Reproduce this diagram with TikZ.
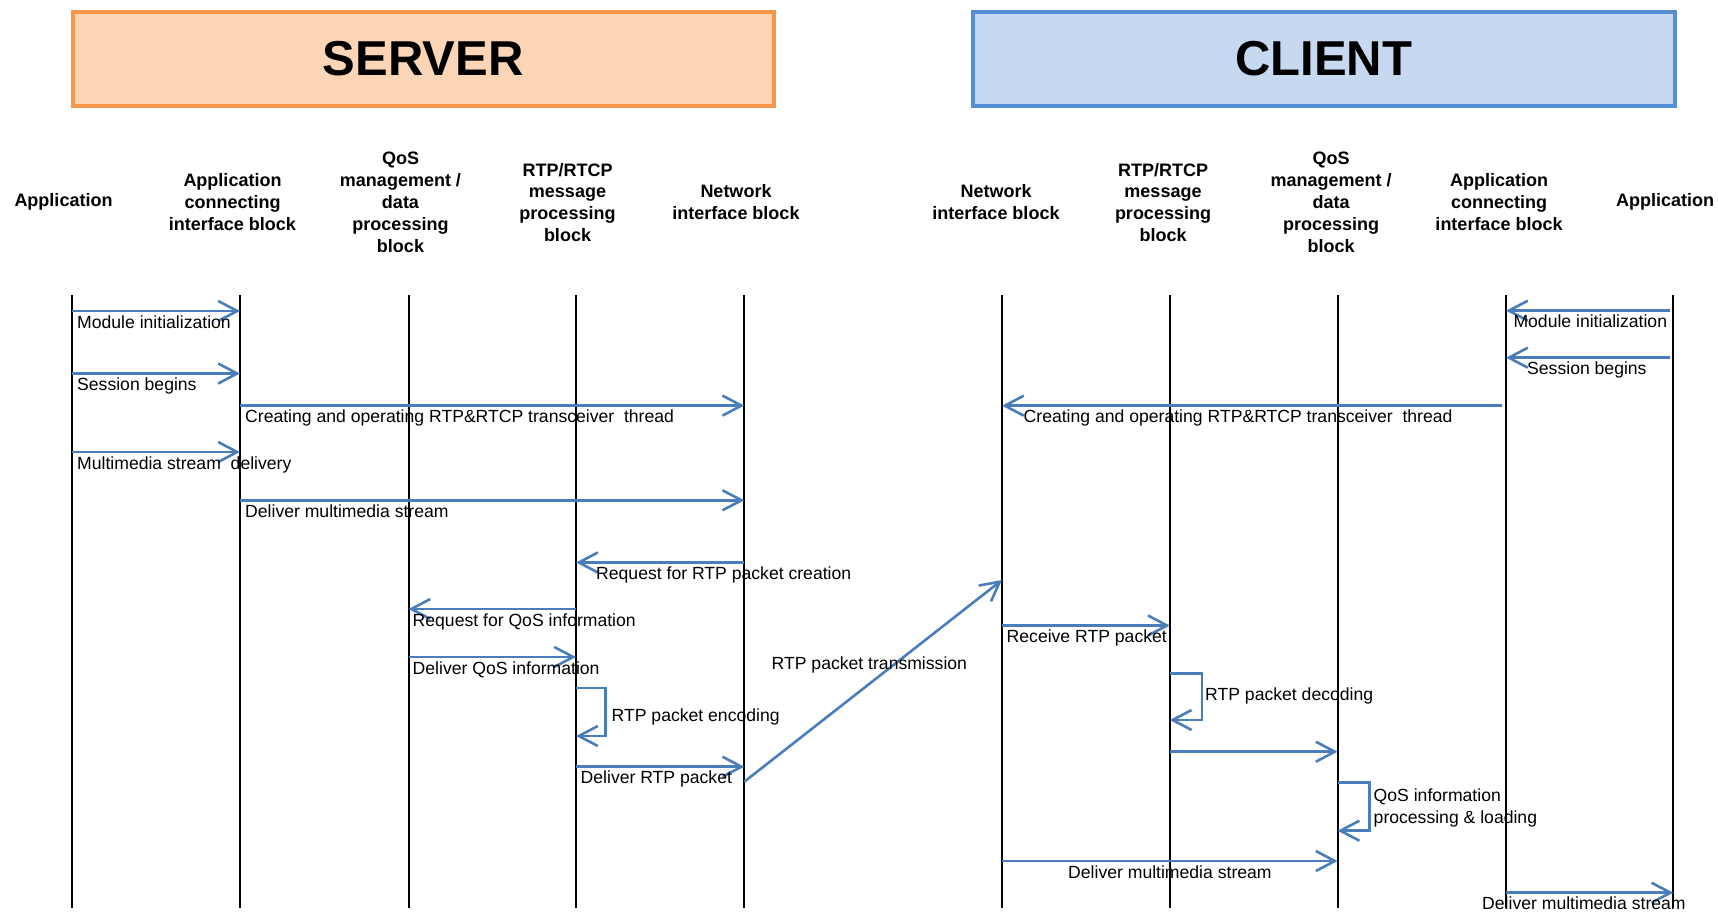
\documentclass[tikz,border=0pt]{standalone}
\usepackage{fontspec}
\setmainfont{Liberation Sans}
\usetikzlibrary{arrows.meta}
\definecolor{srvfill}{HTML}{FBD5B5}
\definecolor{srvline}{HTML}{F79646}
\definecolor{clifill}{HTML}{C6D9F1}
\definecolor{cliline}{HTML}{558ED5}
\definecolor{msgblue}{HTML}{4A7EBB}
\begin{document}
\begin{tikzpicture}[x=1pt,y=-1pt,
  lifeline/.style={draw=black, line width=2pt},
  msg/.style={draw=msgblue, line width=2.6pt, -{Straight Barb[length=19pt,width=20pt,line width=2.6pt]}},
  lbl/.style={anchor=base west, inner sep=0pt, font=\fontsize{17.6}{21.6}\selectfont},
  hdr/.style={align=center, inner sep=0pt, font=\fontsize{18}{21.9}\selectfont\bfseries},
  titlebox/.style={line width=4pt, minimum width=701.5pt, minimum height=94pt, inner sep=0pt, font=\fontsize{49}{55}\selectfont\bfseries}
]
\useasboundingbox (0,0) rectangle (1718,912);

% title boxes
\node[titlebox, fill=srvfill, draw=srvline] (server) at (423.25,59) {SERVER};
\node[titlebox, fill=clifill, draw=cliline] (client) at (1323.75,59) {CLIENT};

% headers
\node[hdr] (hsA) at (63.5,202) {Application};
\node[hdr] (hsB) at (232.5,202) {Application\\connecting\\interface block};
\node[hdr] (hsC) at (400.5,202.5) {QoS\\management /\\data\\processing\\block};
\node[hdr] (hsD) at (567.5,202.5) {RTP/RTCP\\message\\processing\\block};
\node[hdr] (hsE) at (736,202) {Network\\interface block};
\node[hdr] (hcE) at (996,202) {Network\\interface block};
\node[hdr] (hcD) at (1163,202.5) {RTP/RTCP\\message\\processing\\block};
\node[hdr] (hcC) at (1331,202.5) {QoS\\management /\\data\\processing\\block};
\node[hdr] (hcB) at (1499,202) {Application\\connecting\\interface block};
\node[hdr] (hcA) at (1665,202) {Application};

% lifeline tops
\coordinate (sA) at (72.3,295);
\coordinate (sB) at (240,295);
\coordinate (sC) at (408.5,295);
\coordinate (sD) at (576,295);
\coordinate (sE) at (744.3,295);
\coordinate (cE) at (1002,295);
\coordinate (cD) at (1169.8,295);
\coordinate (cC) at (1337.6,295);
\coordinate (cB) at (1506,295);
\coordinate (cA) at (1673.3,295);
\coordinate (bot) at (0,908);
\foreach \l in {sA,sB,sC,sD,sE,cE,cD,cC,cB,cA}
  \draw[lifeline] (\l) -- (\l |- bot);

% message levels
\coordinate (m1) at (0,311);
\coordinate (m2) at (0,373.5);
\coordinate (m3) at (0,405.6);
\coordinate (m4) at (0,452);
\coordinate (m5) at (0,500.3);
\coordinate (m6) at (0,562.5);
\coordinate (m7) at (0,609);
\coordinate (m8) at (0,657);
\coordinate (m10) at (0,766.7);
\coordinate (d1) at (0,781.7);
\coordinate (d2) at (0,580);
\coordinate (c1) at (0,310.7);
\coordinate (c2) at (0,357.7);
\coordinate (c3) at (0,405.7);
\coordinate (c4) at (0,625.5);
\coordinate (c5) at (0,751.7);
\coordinate (c6) at (0,861);
\coordinate (c7) at (0,892.7);
\coordinate (cAin) at (1670,0);
\coordinate (cBin) at (1502,0);
% self loop corners
\coordinate (encR) at (605.5,0);
\coordinate (encT) at (0,688);
\coordinate (encB) at (0,736);
\coordinate (decR) at (1201.8,0);
\coordinate (decT) at (0,673.3);
\coordinate (decB) at (0,720);
\coordinate (qosR) at (1369.6,0);
\coordinate (qosT) at (0,782.3);
\coordinate (qosB) at (0,830.7);

% ---- server messages
\draw[msg] (sA |- m1) -- (sB |- m1);
\node[lbl] (l1) at (77,328) {Module initialization};
\draw[msg] (sA |- m2) -- (sB |- m2);
\node[lbl] (l2) at (77,390.5) {Session begins};
\draw[msg] (sB |- m3) -- (sE |- m3);
\node[lbl] (l3) at (245,422.6) {Creating and operating RTP\&RTCP transceiver~ thread};
\draw[msg] (sA |- m4) -- (sB |- m4);
\node[lbl] (l4) at (77,469) {Multimedia stream~ delivery};
\draw[msg] (sB |- m5) -- (sE |- m5);
\node[lbl] (l5) at (245,517.3) {Deliver multimedia stream};
\draw[msg] (sE |- m6) -- (sD |- m6);
\node[lbl] (l6) at (596,579.5) {Request for RTP packet creation};
\draw[msg] (sD |- m7) -- (sC |- m7);
\node[lbl] (l7) at (412.5,626) {Request for QoS information};
\draw[msg] (sC |- m8) -- (sD |- m8);
\node[lbl] (l8) at (412.5,674) {Deliver QoS information};
\draw[msg] (sD |- encT) -- (encR |- encT) -- (encR |- encB) -- (sD |- encB);
\node[lbl] (l9) at (611.5,721.5) {RTP packet encoding};
\draw[msg] (sD |- m10) -- (sE |- m10);
\node[lbl] (l10) at (580.5,783.7) {Deliver RTP packet};
\draw[msg] (sE |- d1) -- (cE |- d2);
\node[lbl] (l11) at (771.5,669) {RTP packet transmission};

% ---- client messages
\draw[msg] (cAin |- c1) -- (cB |- c1);
\node[lbl] (k1) at (1513.3,327.7) {Module initialization};
\draw[msg] (cAin |- c2) -- (cB |- c2);
\node[lbl] (k2) at (1527,374.7) {Session begins};
\draw[msg] (cBin |- c3) -- (cE |- c3);
\node[lbl] (k3) at (1023.5,422.7) {Creating and operating RTP\&RTCP transceiver~ thread};
\draw[msg] (cE |- c4) -- (cD |- c4);
\node[lbl] (k4) at (1006.5,642.5) {Receive RTP packet};
\draw[msg] (cD |- decT) -- (decR |- decT) -- (decR |- decB) -- (cD |- decB);
\node[lbl] (k5) at (1205,700) {RTP packet decoding};
\draw[msg] (cD |- c5) -- (cC |- c5);
\draw[msg] (cC |- qosT) -- (qosR |- qosT) -- (qosR |- qosB) -- (cC |- qosB);
\node[lbl] (k6) at (1373.5,801.7) {QoS information};
\node[lbl] (k7) at (1373.5,823.3) {processing \& loading};
\draw[msg] (cE |- c6) -- (cC |- c6);
\node[lbl] (k8) at (1068,878) {Deliver multimedia stream};
\draw[msg] (cB |- c7) -- (cA |- c7);
\node[lbl] (k9) at (1482,909.7) {Deliver multimedia stream};
\end{tikzpicture}
\end{document}
